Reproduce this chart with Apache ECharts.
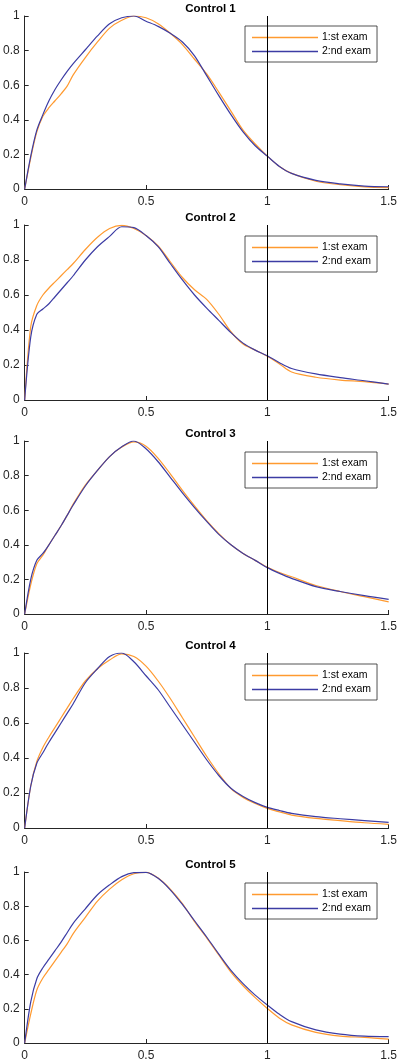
<!DOCTYPE html>
<html>
<head>
<meta charset="utf-8">
<script src="https://cdn.jsdelivr.net/npm/echarts@6/dist/echarts.min.js"></script>
<style>html,body{margin:0;padding:0;background:#fff}#c{width:400px;height:1062px}</style>
</head>
<body>
<div id="c"></div>
<script>
// ---- data ----
const xs = [0, 0.025, 0.05, 0.075, 0.1, 0.125, 0.15, 0.175, 0.2, 0.25, 0.3, 0.35, 0.4, 0.45, 0.5, 0.55, 0.6, 0.65, 0.7, 0.75, 0.8, 0.85, 0.9, 0.95, 1.0, 1.05, 1.1, 1.2, 1.3, 1.4, 1.5];
const titles = ["Control 1", "Control 2", "Control 3", "Control 4", "Control 5"];
const seriesNames = ["1:st exam", "2:nd exam"];
const xTicks = [0, 0.5, 1, 1.5];
const yTicks = [0, 0.2, 0.4, 0.6, 0.8, 1];
const refLineX = 1;

const c1First  = [0, 0.18, 0.33, 0.42, 0.47, 0.51, 0.55, 0.595, 0.66, 0.76, 0.85, 0.93, 0.975, 1.0, 0.99, 0.955, 0.90, 0.835, 0.75, 0.665, 0.56, 0.45, 0.34, 0.26, 0.19, 0.13, 0.09, 0.045, 0.025, 0.012, 0.008];
const c1Second = [0, 0.19, 0.34, 0.43, 0.51, 0.575, 0.63, 0.68, 0.725, 0.805, 0.885, 0.955, 0.99, 1.0, 0.97, 0.94, 0.90, 0.85, 0.77, 0.655, 0.54, 0.43, 0.33, 0.25, 0.19, 0.13, 0.09, 0.05, 0.03, 0.017, 0.013];
const c2First  = [0, 0.42, 0.54, 0.60, 0.64, 0.675, 0.71, 0.745, 0.78, 0.86, 0.93, 0.98, 0.998, 0.98, 0.94, 0.88, 0.79, 0.70, 0.63, 0.575, 0.49, 0.39, 0.32, 0.285, 0.25, 0.206, 0.16, 0.13, 0.114, 0.105, 0.091];
const c2Second = [0, 0.36, 0.49, 0.52, 0.55, 0.59, 0.63, 0.67, 0.71, 0.80, 0.876, 0.935, 0.99, 0.985, 0.94, 0.876, 0.78, 0.686, 0.60, 0.525, 0.455, 0.385, 0.325, 0.285, 0.253, 0.213, 0.18, 0.149, 0.128, 0.11, 0.091];
const c3First  = [0, 0.17, 0.29, 0.34, 0.40, 0.455, 0.51, 0.57, 0.635, 0.745, 0.83, 0.91, 0.965, 0.995, 0.97, 0.90, 0.81, 0.715, 0.625, 0.54, 0.465, 0.40, 0.35, 0.31, 0.27, 0.24, 0.215, 0.165, 0.13, 0.10, 0.07];
const c3Second = [0, 0.2, 0.31, 0.35, 0.40, 0.455, 0.51, 0.57, 0.63, 0.74, 0.83, 0.91, 0.967, 1.0, 0.955, 0.88, 0.79, 0.70, 0.615, 0.535, 0.46, 0.40, 0.35, 0.31, 0.268, 0.235, 0.206, 0.158, 0.13, 0.106, 0.085];
const c4First  = [0, 0.24, 0.38, 0.46, 0.52, 0.575, 0.63, 0.685, 0.74, 0.84, 0.91, 0.96, 0.995, 0.98, 0.925, 0.84, 0.74, 0.63, 0.52, 0.41, 0.31, 0.225, 0.175, 0.14, 0.112, 0.092, 0.074, 0.055, 0.042, 0.03, 0.021];
const c4Second = [0, 0.24, 0.37, 0.43, 0.49, 0.545, 0.60, 0.655, 0.71, 0.83, 0.91, 0.98, 1.0, 0.95, 0.87, 0.79, 0.69, 0.59, 0.49, 0.39, 0.30, 0.227, 0.18, 0.145, 0.118, 0.10, 0.084, 0.065, 0.053, 0.042, 0.032];
const c5First  = [0, 0.17, 0.31, 0.38, 0.43, 0.48, 0.53, 0.58, 0.64, 0.735, 0.83, 0.90, 0.955, 0.99, 0.998, 0.965, 0.90, 0.815, 0.71, 0.615, 0.515, 0.415, 0.335, 0.265, 0.202, 0.145, 0.106, 0.062, 0.04, 0.033, 0.023];
const c5Second = [0, 0.24, 0.376, 0.44, 0.49, 0.54, 0.59, 0.645, 0.70, 0.785, 0.867, 0.925, 0.973, 0.996, 0.998, 0.963, 0.896, 0.81, 0.715, 0.62, 0.52, 0.425, 0.347, 0.28, 0.222, 0.168, 0.125, 0.077, 0.052, 0.04, 0.037];

const firstSets = [c1First, c2First, c3First, c4First, c5First];
const secondSets = [c1Second, c2Second, c3Second, c4Second, c5Second];

// ---- layout ----
const gridTops = [16, 225, 441, 653, 872];
const gridHeights = [173, 175, 173, 175, 173];
const legendTops = [26, 236, 452, 664, 883];
const colFirst = '#FF9A30';
const colSecond = '#3C3CA4';
const axisCol = '#262626';
const font = '"Liberation Sans", Arial, Helvetica, sans-serif';

const grids = [], xAxes = [], yAxes = [], titleArr = [], legends = [], series = [];
const fmt = v => String(+(+v).toFixed(2));

for (let i = 0; i < 5; i++) {
  grids.push({left: 21, right: 10, top: gridTops[i], height: gridHeights[i], containLabel: false});
  xAxes.push({
    type: 'value', gridIndex: i, min: xTicks[0], max: xTicks[xTicks.length - 1], interval: 0.5,
    axisLine: {show: true, onZero: false, lineStyle: {color: axisCol, width: 1}},
    axisTick: {show: true, inside: true, length: 4, lineStyle: {color: axisCol}},
    axisLabel: {color: axisCol, fontSize: 12, fontFamily: font, margin: 7, formatter: fmt, showMaxLabel: true, showMinLabel: true},
    splitLine: {show: false}
  });
  yAxes.push({
    type: 'value', gridIndex: i, min: yTicks[0], max: yTicks[yTicks.length - 1], interval: 0.2,
    axisLine: {show: true, onZero: false, lineStyle: {color: axisCol, width: 1}},
    axisTick: {show: true, inside: true, length: 4, lineStyle: {color: axisCol}},
    axisLabel: {color: axisCol, fontSize: 12, fontFamily: font, margin: 5, formatter: fmt, showMaxLabel: true, showMinLabel: true},
    splitLine: {show: false}
  });
  titleArr.push({
    text: titles[i], left: 205.5, textAlign: 'center', top: gridTops[i] - 18,
    textStyle: {fontSize: 11.5, fontWeight: 'bold', color: '#000', fontFamily: font}
  });
  legends.push({
    data: seriesNames, orient: 'vertical', left: 245, top: legendTops[i],
    padding: [6, 6, 5, 7], itemGap: 3, itemWidth: 66, itemHeight: 1.3, icon: 'rect',
    backgroundColor: '#fff', borderColor: axisCol, borderWidth: 0.8, borderRadius: 0,
    textStyle: {fontSize: 10.5, color: '#000', fontFamily: font, padding: [0, 0, 0, -1]},
    selectedMode: false
  });
  series.push({
    name: seriesNames[0], type: 'line', xAxisIndex: i, yAxisIndex: i,
    data: xs.map((x, j) => [x, firstSets[i][j]]),
    smooth: 0.3, symbol: 'none', lineStyle: {color: colFirst, width: 1.2}, itemStyle: {color: colFirst},
    markLine: {
      silent: true, symbol: ['none', 'none'], label: {show: false},
      lineStyle: {color: '#000', width: 1, type: 'solid'},
      data: [{xAxis: refLineX}], animation: false
    },
    z: 2
  });
  series.push({
    name: seriesNames[1], type: 'line', xAxisIndex: i, yAxisIndex: i,
    data: xs.map((x, j) => [x, secondSets[i][j]]),
    smooth: 0.3, symbol: 'none', lineStyle: {color: colSecond, width: 1.2}, itemStyle: {color: colSecond},
    z: 3
  });
}

const chart = echarts.init(document.getElementById('c'), null, {renderer: 'canvas'});
chart.setOption({
  backgroundColor: '#fff',
  animation: false,
  title: titleArr,
  legend: legends,
  grid: grids,
  xAxis: xAxes,
  yAxis: yAxes,
  series: series
});
</script>
</body>
</html>
